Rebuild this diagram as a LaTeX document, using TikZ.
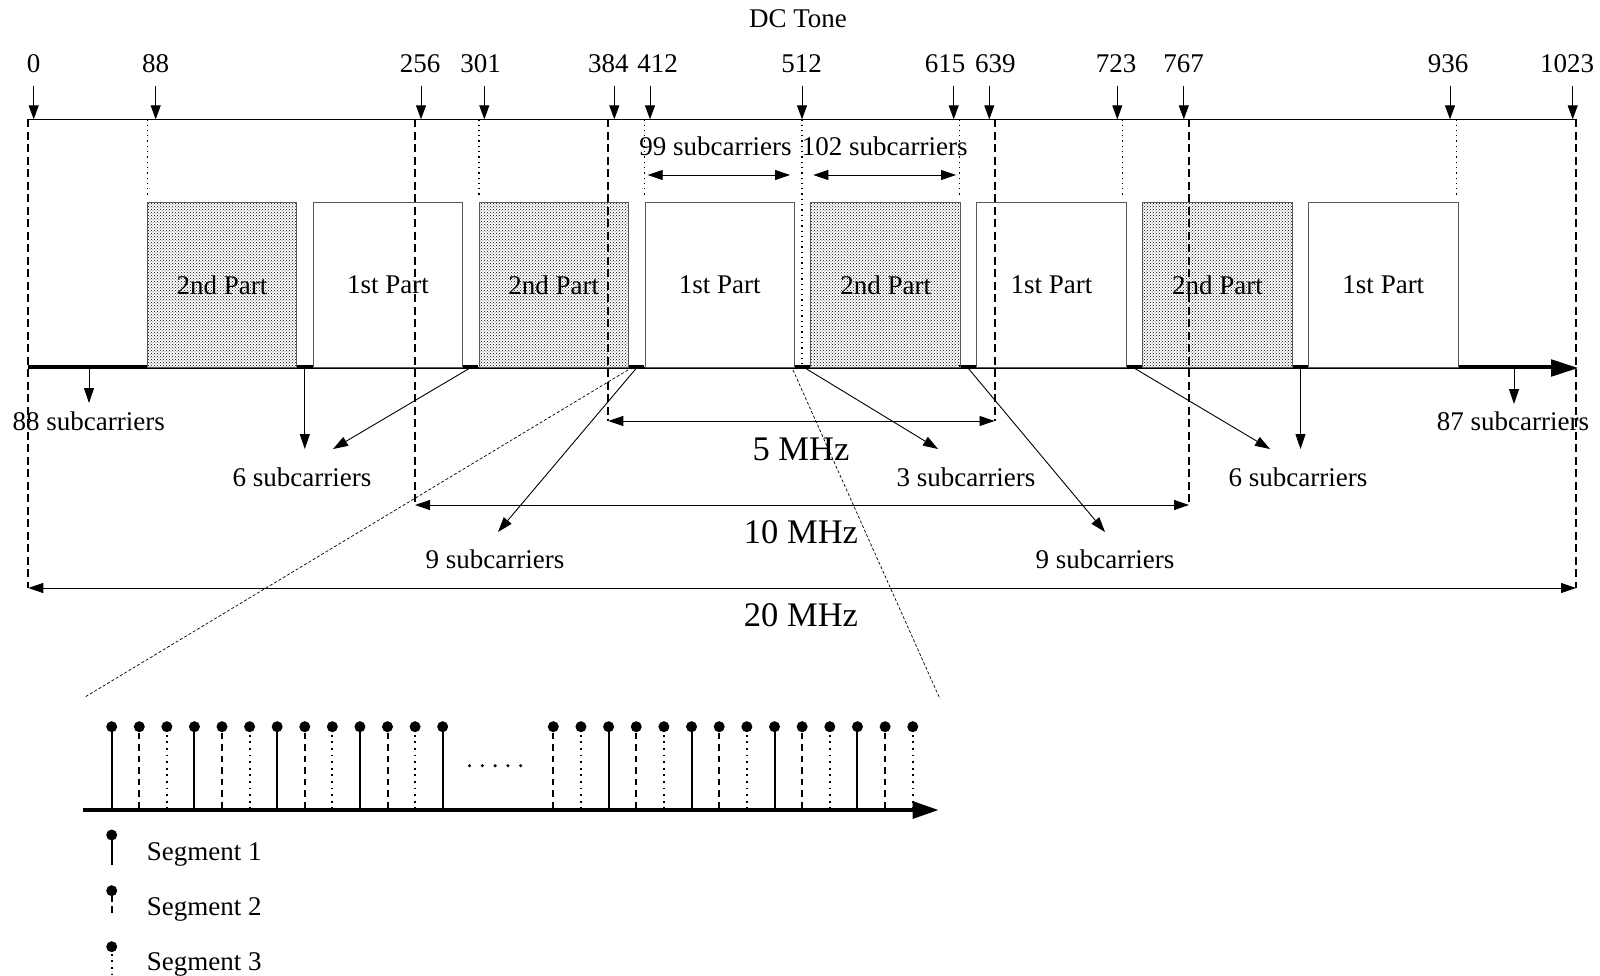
\documentclass[tikz,border=0pt]{standalone}
\usepackage{fontspec}
\setmainfont{Liberation Serif}
\usetikzlibrary{arrows.meta,patterns}
\begin{document}
\begin{tikzpicture}[x=1pt,y=-1pt,
  lbl/.style={font=\fontsize{27}{31}\selectfont, inner sep=0pt, text height=18pt, text depth=0pt},
  big/.style={font=\fontsize{34.5}{40}\selectfont, inner sep=0pt, text height=23pt, text depth=0pt},
  tick/.style={-{Triangle[length=14pt,width=10pt]}, line width=1pt},
  arr/.style={-{Triangle[length=15pt,width=10pt]}, line width=0.9pt},
  dim/.style={{Triangle[length=15pt,width=10pt]}-{Triangle[length=15pt,width=10pt]}, line width=0.9pt},
  bwline/.style={line width=2pt, dash pattern=on 8pt off 4.5pt},
  dotline/.style={line width=1.3pt, dash pattern=on 1.3pt off 4pt},
  zoomline/.style={line width=0.7pt, dash pattern=on 3pt off 2pt},
  partbox/.style={draw=black!65, line width=1pt, minimum width=149.5pt, minimum height=165.4pt, inner sep=0pt, font=\fontsize{27}{31}\selectfont},
  shadedbox/.style={partbox, pattern=crosshatch dots, pattern color=black},
  stemS/.style={line width=2pt},
  stemD/.style={line width=2pt, dash pattern=on 6.5pt off 5pt},
  stemT/.style={line width=1.8pt, dash pattern=on 1.8pt off 4.8pt},
]
\useasboundingbox (0,0) rectangle (1600,976);

% ---------- title
\node[lbl] (dc) at (798,18.4) {DC Tone};

% ---------- tick labels and arrows
\foreach \v/\ax/\lx in {0/33.7/33.7, 88/155.7/155.5, 256/421/420, 301/484.3/480.6,
  384/614.3/608.3, 412/650/657.7, 512/802/801.7, 615/953.7/945, 639/989.3/995.4,
  723/1117.3/1116, 767/1183.8/1183.7, 936/1450/1448, 1023/1572.7/1567} {
  \node[lbl] (n\v) at (\lx,63.5) {\v};
  \coordinate (s\v) at (\ax,86);
  \coordinate (e\v) at (\ax,119.3);
  \draw[tick] (s\v) -- (e\v);
}

% ---------- top line
\coordinate (topL) at (28.3,119.3);
\coordinate (topR) at (1576,119.3);
\draw[line width=1.2pt] (topL) -- (topR);

% ---------- axis
\coordinate (axL) at (28.3,368);
\coordinate (axR) at (1578,368);
\draw[line width=2.2pt, -{Triangle[length=27pt,width=17pt]}] (axL) -- (axR);
\foreach \a/\b in {28.3/147.3, 296.7/313, 462.3/478.3, 628.3/644.3, 793.7/810.3,
  959.3/975.7, 1125.8/1142, 1292.3/1308.8, 1458.8/1552} {
  \draw[line width=4pt] (\a,366.8) -- (\b,366.8);
}

% ---------- part boxes
\foreach \i/\t in {0/2nd, 1/1st, 2/2nd, 3/1st, 4/2nd, 5/1st, 6/2nd, 7/1st} {
  \pgfmathsetmacro{\cx}{222.05+165.9*\i}
  \pgfmathtruncatemacro{\odd}{mod(\i,2)}
  \ifnum\odd=0 \node[shadedbox] (b\i) at (\cx,285) {\t\ Part};\fi
  \ifnum\odd=1 \node[partbox] (b\i) at (\cx,285) {\t\ Part};\fi
}

% ---------- dotted guide lines
\foreach \x/\n in {147.3/88, 479/301, 644.3/412, 959.3/615, 1122.7/723, 1456.2/936} {
  \coordinate (dt\n) at (\x,119.3);
  \coordinate (db\n) at (\x,198);
  \draw[dotline] (dt\n) -- (db\n);
}
\coordinate (dt512) at (802,119.3);
\coordinate (db512) at (802,366);
\draw[dotline] (dt512) -- (db512);

% ---------- dashed bandwidth lines
\foreach \x/\yb/\n in {28.3/588/0, 415/505/256, 608.3/421/384, 994.5/421/639, 1189/505/767, 1576/588/1023} {
  \coordinate (bt\n) at (\x,119.3);
  \coordinate (bb\n) at (\x,\yb);
  \draw[bwline] (bt\n) -- (bb\n);
}

% ---------- bandwidth dimension arrows
\draw[dim] (bb384) -- (bb639);
\draw[dim] (bb256) -- (bb767);
\draw[dim] (bb0) -- (bb1023);
\node[big] (mhz5) at (801,449) {5 MHz};
\node[big] (mhz10) at (801,531.6) {10 MHz};
\node[big] (mhz20) at (801,615) {20 MHz};

% ---------- subcarrier counts at top
\node[lbl] (sc99) at (715.5,146.7) {99 subcarriers};
\node[lbl] (sc102) at (884.7,146.7) {102 subcarriers};
\coordinate (d99a) at (647.7,175);
\coordinate (d99b) at (790,175);
\coordinate (d102a) at (813.3,175);
\coordinate (d102b) at (956,175);
\draw[dim] (d99a) -- (d99b);
\draw[dim] (d102a) -- (d102b);

% ---------- subcarrier labels below axis
\node[lbl] (sc88) at (88.8,421.4) {88 subcarriers};
\node[lbl] (sc87) at (1513,421) {87 subcarriers};
\node[lbl] (sc6a) at (302,477.5) {6 subcarriers};
\node[lbl] (sc3) at (966,477.5) {3 subcarriers};
\node[lbl] (sc6b) at (1298,477.5) {6 subcarriers};
\node[lbl] (sc9a) at (495,559) {9 subcarriers};
\node[lbl] (sc9b) at (1105,559) {9 subcarriers};

\coordinate (g88) at (89,368);   \coordinate (h88) at (89,403);
\coordinate (g6v) at (304.8,368); \coordinate (h6v) at (304.8,449);
\coordinate (g6d) at (470,368);  \coordinate (h6d) at (333,449);
\coordinate (g9a) at (636.5,368); \coordinate (h9a) at (498,532);
\coordinate (g3) at (805,368);   \coordinate (h3) at (938,449);
\coordinate (g9b) at (968,368);  \coordinate (h9b) at (1105,532);
\coordinate (g6e) at (1134,368); \coordinate (h6e) at (1270,449);
\coordinate (g6w) at (1300.5,368); \coordinate (h6w) at (1300.5,449);
\coordinate (g87) at (1514,368); \coordinate (h87) at (1514,404);
\foreach \n in {88,6v,6d,9a,3,9b,6e,6w,87} { \draw[arr] (g\n) -- (h\n); }

% ---------- zoom lines
\coordinate (zl1) at (628,370); \coordinate (zl2) at (85,697);
\coordinate (zr1) at (793,370); \coordinate (zr2) at (940,699);
\draw[zoomline] (zl1) -- (zl2);
\draw[zoomline] (zr1) -- (zr2);

% ---------- lower detail axis
\coordinate (laL) at (82.7,810);
\coordinate (laR) at (938.5,810);
\draw[line width=3.5pt, -{Triangle[length=26pt,width=17pt]}] (laL) -- (laR);

\foreach \k in {0,...,12} {
  \pgfmathsetmacro{\sx}{111.7+27.58*\k}
  \pgfmathtruncatemacro{\m}{mod(\k,3)}
  \coordinate (st1\k) at (\sx,726.7);
  \coordinate (sb1\k) at (\sx,809);
  \ifnum\m=0 \draw[stemS] (st1\k) -- (sb1\k);\fi
  \ifnum\m=1 \draw[stemD] ([yshift=-6pt]st1\k) -- (sb1\k);\fi
  \ifnum\m=2 \draw[stemT] ([yshift=-8pt]st1\k) -- (sb1\k);\fi
  \fill (st1\k) circle (5.5pt);
}
\foreach \k in {0,...,13} {
  \pgfmathsetmacro{\sx}{553.3+27.65*\k}
  \pgfmathtruncatemacro{\m}{mod(\k,3)}
  \coordinate (st2\k) at (\sx,726.7);
  \coordinate (sb2\k) at (\sx,809);
  \ifnum\m=2 \draw[stemS] (st2\k) -- (sb2\k);\fi
  \ifnum\m=0 \draw[stemD] ([yshift=-6pt]st2\k) -- (sb2\k);\fi
  \ifnum\m=1 \draw[stemT] ([yshift=-8pt]st2\k) -- (sb2\k);\fi
  \fill (st2\k) circle (5.5pt);
}
\foreach \k in {0,...,4} {
  \fill (469.5+12.8*\k,765.7) circle (1.7pt);
}

% ---------- legend
\coordinate (lg1t) at (111.7,835);  \coordinate (lg1b) at (111.7,865);
\coordinate (lg2t) at (111.7,890.7); \coordinate (lg2b) at (111.7,914);
\coordinate (lg3t) at (111.7,946.7); \coordinate (lg3b) at (111.7,976);
\draw[stemS] (lg1t) -- (lg1b); \fill (lg1t) circle (5.5pt);
\draw[stemD, dash pattern=on 6.5pt off 4pt] ([yshift=-5pt]lg2t) -- (lg2b); \fill (lg2t) circle (5.5pt);
\draw[stemT] ([yshift=-7pt]lg3t) -- (lg3b); \fill (lg3t) circle (5.5pt);
\node[lbl, anchor=west] (seg1) at (146.7,851.7) {Segment 1};
\node[lbl, anchor=west] (seg2) at (146.7,906) {Segment 2};
\node[lbl, anchor=west] (seg3) at (146.7,961) {Segment 3};
\end{tikzpicture}
\end{document}
